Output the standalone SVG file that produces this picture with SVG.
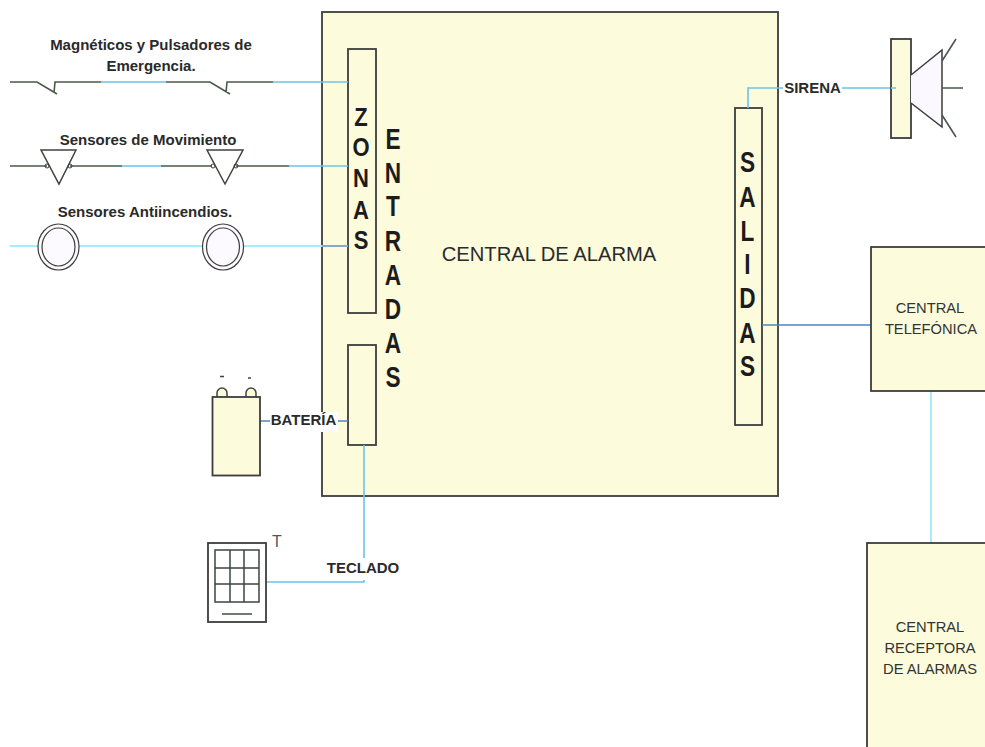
<svg xmlns="http://www.w3.org/2000/svg" width="985" height="747" viewBox="0 0 985 747">
<style>
text{font-family:"Liberation Sans",Arial,sans-serif;fill:#2a2a2a}
.box{fill:#fcfbdc;stroke:#3c3c3c;stroke-width:1.8}
.horn{fill:#fbf9ff;stroke:#3c3c3c;stroke-width:1.5}
.dark{fill:none;stroke:#4a5a4a;stroke-width:1.6}
.cyan{fill:none;stroke:#6cc4e6;stroke-width:1.6}
.aqua{fill:none;stroke:#a6ecfa;stroke-width:2}
.blue{fill:none;stroke:#4a86c8;stroke-width:1.5}
.lab{font-size:15px;font-weight:bold;text-anchor:middle}
.cap{font-size:14.700px;text-anchor:middle;fill:#333}
.big{font-weight:bold;text-anchor:middle;fill:#1c1c1c}
.z{font-size:25px}
.e{font-size:29px}
.grid{fill:none;stroke:#3c463c;stroke-width:1.5}
.ring{fill:#fdfaff;stroke:#3c3c3c;stroke-width:1.2}
</style>
<g id="central-alarma"><rect class="box" x="322" y="12" width="456" height="484"/>
<text x="549" y="261" font-size="20.200" text-anchor="middle">CENTRAL DE ALARMA</text></g>
<g id="entradas" transform="translate(393 0) scale(.78 1)"><text class="big e" x="0" y="149">E</text><text class="big e" x="0" y="183">N</text><text class="big e" x="0" y="216">T</text><text class="big e" x="0" y="251">R</text><text class="big e" x="0" y="285">A</text><text class="big e" x="0" y="319">D</text><text class="big e" x="0" y="353">A</text><text class="big e" x="0" y="387">S</text></g>
<g id="zonas"><rect class="box" x="348" y="49" width="28" height="264"/>
<g transform="translate(361 0) scale(.88 1)"><text class="big z" x="0" y="126.500">Z</text><text class="big z" x="0" y="156">O</text><text class="big z" x="0" y="187">N</text><text class="big z" x="0" y="219">A</text><text class="big z" x="0" y="249">S</text></g></g>
<g id="bateria-entrada"><rect class="box" x="348" y="345" width="28" height="100"/></g>
<g id="salidas"><rect class="box" x="735" y="108" width="27" height="317"/>
<g transform="translate(747.500 0) scale(.78 1)"><text class="big e" x="0" y="172">S</text><text class="big e" x="0" y="207">A</text><text class="big e" x="0" y="241">L</text><text class="big e" x="0" y="274">I</text><text class="big e" x="0" y="308">D</text><text class="big e" x="0" y="343">A</text><text class="big e" x="0" y="376">S</text></g></g>
<g id="connectors">
<path class="dark" d="M10 82H37L57 94M54 93L55 82H101M166 82H210L230 94M226 93L227 82H273"/>
<path class="cyan" d="M101 82H166M273 82H348"/>
<path class="dark" d="M10 166H47M70 166H122M161 166H212M236 166H289"/>
<path class="cyan" d="M122 166H161M289 166H348"/>
<path class="aqua" d="M10 246H38M78 246H203M243 246H322"/>
<path d="M322 246H348" fill="none" stroke="#8aa6cc" stroke-width="2"/>
<path class="blue" d="M260 421H272M336 421H348"/>
<path class="cyan" d="M364 445V558M364 580V582H266"/>
<path class="cyan" d="M748 108V88H783M842 88H895"/>
<path class="blue" d="M762 325H871"/>
<path class="aqua" d="M931 391V543"/>
</g>
<g id="magneticos"><text class="lab" x="151" y="50">Magnéticos y Pulsadores de</text><text class="lab" x="151" y="71">Emergencia.</text></g>
<g id="movimiento"><text class="lab" x="148" y="145">Sensores de Movimiento</text>
<path class="grid" d="M41 150H76L59 184ZM207 150H243L225 184Z" style="fill:#fff"/>
<circle cx="47" cy="166" r="2" fill="none" stroke="#3c3c3c"/><circle cx="70" cy="166" r="2" fill="none" stroke="#3c3c3c"/><circle cx="213" cy="166" r="2" fill="none" stroke="#3c3c3c"/><circle cx="236" cy="166" r="2" fill="none" stroke="#3c3c3c"/></g>
<g id="antiincendios"><text class="lab" x="145" y="217">Sensores Antiincendios.</text>
<ellipse class="ring" cx="58.500" cy="247" rx="20.500" ry="23"/><ellipse class="ring" cx="58.500" cy="247" rx="16.500" ry="19"/>
<ellipse class="ring" cx="223" cy="247" rx="20.500" ry="23"/><ellipse class="ring" cx="223" cy="247" rx="16.500" ry="19"/></g>
<g id="bateria"><path class="grid" d="M217 397V393A5 5 0 0 1 227 393V397M246 397V393A5 5 0 0 1 256 393V397" style="fill:#fcfbdc"/>
<rect class="box" x="212.500" y="397" width="47.500" height="78.500"/>
<path class="grid" d="M220 376.500H224M248 378H251"/>
<rect x="270" y="412" width="68" height="20" fill="#fff"/><text class="lab" x="303.500" y="425">BATERÍA</text></g>
<g id="teclado"><rect x="208" y="543" width="58" height="79" fill="#fff" stroke="#3c3c3c" stroke-width="1.800"/>
<path class="grid" d="M215 550H259V602H215ZM230 550V602M244 550V602M215 568H259M215 584H259"/>
<path class="dark" d="M222 614H252"/>
<text x="277" y="547" font-size="16" text-anchor="middle" style="fill:#555">T</text>
<text class="lab" x="363" y="573">TECLADO</text></g>
<g id="sirena"><text class="lab" x="812.500" y="93">SIRENA</text>
<rect class="box" x="891" y="39" width="20" height="99"/>
<path class="horn" d="M911 75L942 50V127L911 103"/>
<path class="dark" d="M942 61L956 39M942 88H963M942 115L956 137"/>
<path class="cyan" d="M891 88H896"/></g>
<g id="central-telefonica"><rect class="box" x="871" y="247" width="116" height="144"/>
<text class="cap" x="930" y="313">CENTRAL</text><text class="cap" x="931" y="334">TELEFÓNICA</text></g>
<g id="central-receptora"><rect class="box" x="867" y="543" width="120" height="206"/>
<text class="cap" x="930" y="632">CENTRAL</text><text class="cap" x="930" y="653">RECEPTORA</text><text class="cap" x="930" y="674">DE ALARMAS</text></g>
</svg>
